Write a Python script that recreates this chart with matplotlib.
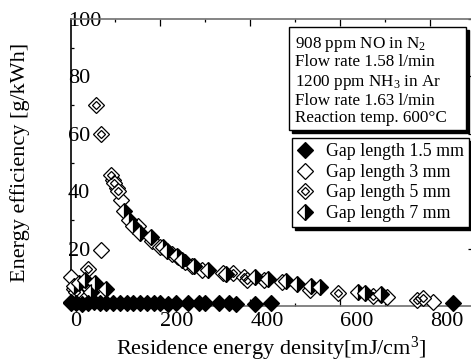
import matplotlib
matplotlib.use("Agg")
import matplotlib.pyplot as plt
from matplotlib.patches import Rectangle
from matplotlib.lines import Line2D
from matplotlib.legend_handler import HandlerTuple
from matplotlib.ticker import MultipleLocator

plt.rcParams['font.family'] = ['Liberation Serif', 'DejaVu Serif']
plt.rcParams['mathtext.fontset'] = 'custom'
plt.rcParams['mathtext.rm'] = 'Liberation Serif'
plt.rcParams['mathtext.it'] = 'Liberation Serif:italic'

### Residence energy density [mJ/cm3] vs. energy efficiency [g/kWh]
### ---------------------------------------------------------------
# gap length 1.5 mm
x_15 = [0, 12, 25, 38, 52, 66, 80, 95, 110, 125, 140, 155, 170, 185, 200,
        218, 235, 262, 285, 300, 330, 352, 368, 410, 445, 850]
y_15 = [1.0, 1.2, 0.8, 1.0, 1.3, 0.9, 1.1, 1.0, 1.2, 0.9, 1.0, 1.1, 0.9,
        1.0, 1.2, 0.8, 1.0, 1.1, 1.0, 0.9, 1.0, 1.1, 0.8, 0.7, 0.9, 1.2]

# gap length 3 mm
x_3 = [0, 67, 8, 22, 95, 103, 112, 150, 182, 240, 270, 292, 340, 430,
       470, 533, 690, 704, 807]
y_3 = [10, 19.5, 6, 4, 44, 41, 37, 28, 22.5, 17, 14, 12.5, 11.5, 9,
       8.5, 5.6, 3.8, 3.2, 1.4]

# gap length 5 mm
x_5 = [56, 67, 40, 12, 89, 97, 105, 200, 225, 255, 362, 385, 393, 595,
       672, 770, 784]
y_5 = [70, 60, 13, 5, 45.5, 43, 40, 20.5, 18, 15.5, 11.5, 10, 9, 4.5,
       3.6, 2.2, 2.8]

# gap length 7 mm
x_7 = [0, 8, 20, 33, 55, 78, 45, 118, 130, 140, 155, 178, 205, 215, 236,
       247, 275, 305, 345, 410, 440, 480, 505, 535, 555, 640, 655, 690]
y_7 = [1.5, 7, 8, 9, 8, 6, 5, 33, 30, 28, 25.5, 24, 20.5, 19, 17.5,
       16, 14, 12.5, 11, 10, 9.5, 8.8, 7.8, 7, 6.5, 5, 4.5, 4.2]

labels = ["Gap length 1.5 mm", "Gap length 3 mm",
          "Gap length 5 mm", "Gap length 7 mm"]
conditions = ["908 ppm NO in N$_2$", "Flow rate 1.58 l/min",
              "1200 ppm NH$_3$ in Ar", "Flow rate 1.63 l/min",
              "Reaction temp. 600\u00b0C"]
x_ticks = [0, 200, 400, 600, 800]
y_ticks = [20, 40, 60, 80, 100]

W, H = 471, 364


def fpos(x, y):
    ### pixel position (from top-left) -> figure fraction
    return x / W, 1 - y / H


fig = plt.figure(figsize=(W / 100, H / 100), dpi=100)
ax = fig.add_axes([70.5 / W, 58 / H, 404.5 / W, 287 / H])

ms = 8.5
ms_in = 4.3
mew = 0.9
style = dict(ls='none', marker='D', ms=ms, mew=mew, mec='k', clip_on=False)

### Markers
ax.plot(x_3, y_3, mfc='w', zorder=3, **style)
ax.plot(x_5, y_5, mfc='w', zorder=3, **style)
ax.plot(x_5, y_5, ls='none', marker='D', ms=ms_in, mew=mew, mec='k',
        mfc='none', clip_on=False, zorder=3)
ax.plot(x_7, y_7, fillstyle='right', mfc='k', markerfacecoloralt='w',
        zorder=4, **style)
ax.plot(x_15, y_15, mfc='k', zorder=5, **style)

### Axes
ax.set_xlim(0, 900)
ax.set_ylim(0, 100)
ax.set_xticks(x_ticks)
ax.set_yticks(y_ticks)
ax.xaxis.set_minor_locator(MultipleLocator(100))
ax.yaxis.set_minor_locator(MultipleLocator(10))
ax.tick_params(which='both', direction='in', top=True, right=True,
               labelsize=16, width=0.9)
ax.tick_params(which='major', length=5)
ax.tick_params(which='minor', length=2.5)
ax.tick_params(axis='y', pad=2)
ax.tick_params(axis='x', pad=4)
for lab in ax.get_xticklabels():
    lab.set_ha('left')
for lab in ax.get_yticklabels():
    lab.set_ha('left')
    lab.set_bbox(dict(fc='w', ec='none', pad=0))

ax.spines['left'].set_color('k')
for s in ('top', 'bottom', 'right'):
    ax.spines[s].set_color('#707070')
for s in ax.spines.values():
    s.set_linewidth(1.2)

### Axis titles
fig.text(*fpos(271, 349), "Residence energy density[mJ/cm$^3$]",
         ha='center', va='center', fontsize=16)
fig.text(*fpos(20, 162), "Energy efficiency [g/kWh]", rotation=90,
         ha='center', va='center', fontsize=16)

### Operating conditions box (with drop shadow)
bx, by, bw, bh = 289, 27, 177, 103
fig.add_artist(Rectangle(fpos(bx + 3, by + bh + 3), bw / W, bh / H,
                         transform=fig.transFigure, fc='k', ec='k', lw=1,
                         zorder=10))
fig.add_artist(Rectangle(fpos(bx, by + bh), bw / W, bh / H,
                         transform=fig.transFigure, fc='w', ec='k', lw=1,
                         zorder=11))
line_y = [44, 62, 83, 101, 118]
for txt, yy in zip(conditions, line_y):
    fig.text(*fpos(295, yy), txt, ha='left', va='center', fontsize=12.3,
             zorder=12)

### Legend
h15 = Line2D([], [], ls='none', marker='D', ms=ms, mew=mew, mec='k', mfc='k')
h3 = Line2D([], [], ls='none', marker='D', ms=ms, mew=mew, mec='k', mfc='w')
h5 = (Line2D([], [], ls='none', marker='D', ms=ms, mew=mew, mec='k', mfc='w'),
      Line2D([], [], ls='none', marker='D', ms=ms_in, mew=mew, mec='k',
             mfc='none'))
h7 = Line2D([], [], ls='none', marker='D', ms=ms, mew=mew, mec='k',
            fillstyle='right', mfc='k', markerfacecoloralt='w')
leg = fig.legend([h15, h3, h5, h7], labels, loc='upper left',
                 bbox_to_anchor=fpos(292, 138), bbox_transform=fig.transFigure,
                 fontsize=12.8, frameon=True, fancybox=False, framealpha=1,
                 edgecolor='k', borderaxespad=0, borderpad=0.3,
                 handlelength=0.9, handletextpad=0.7, labelspacing=0.2,
                 shadow={'color': 'k', 'alpha': 1},
                 handler_map={tuple: HandlerTuple(ndivide=1, pad=0)})
leg.get_frame().set_linewidth(1)
leg.set_zorder(12)

fig.savefig("out.png", dpi=100)
